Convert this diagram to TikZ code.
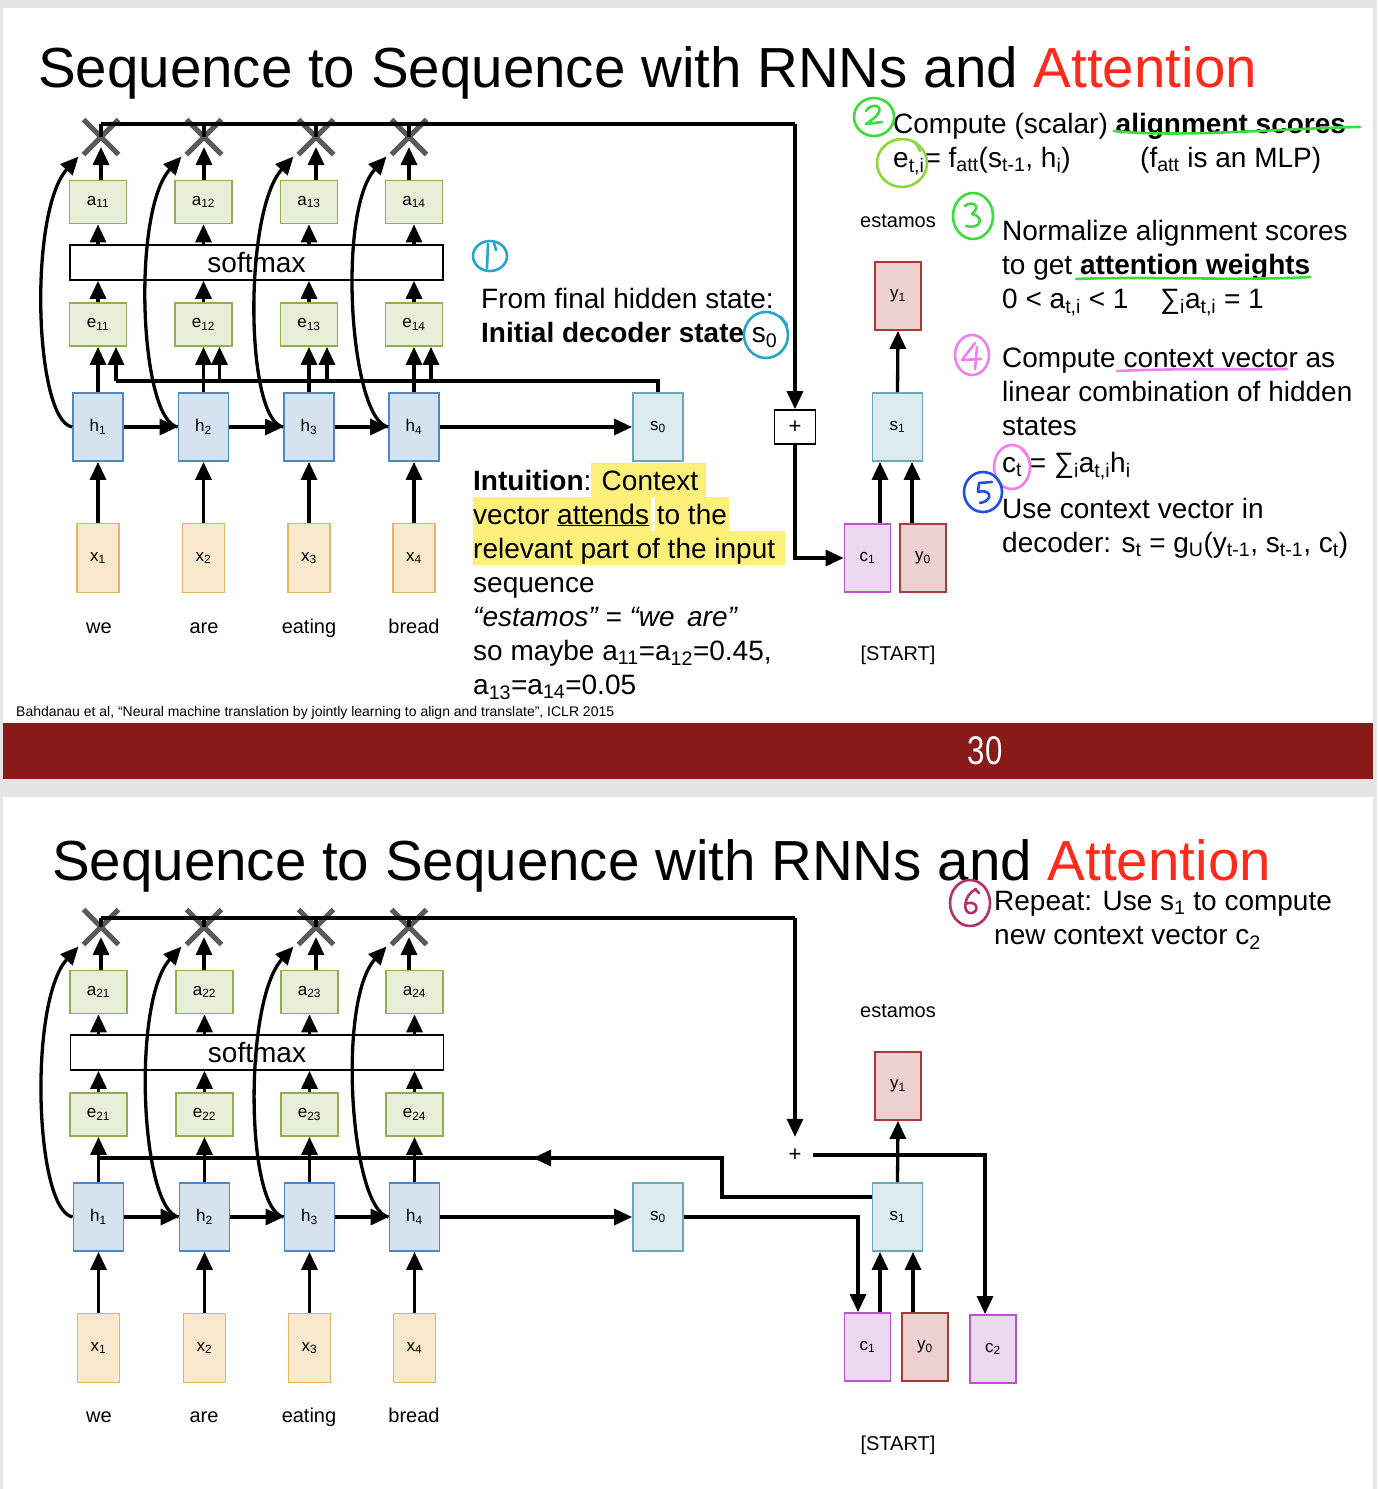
\documentclass[tikz,border=0pt]{standalone}
\usepackage{fontspec}
\setmainfont{Liberation Sans}
\usepackage{graphicx}
\usetikzlibrary{arrows.meta,shapes.misc}
\definecolor{bggray}{HTML}{E4E4E4}
\definecolor{bandred}{HTML}{8A1A1A}
\definecolor{titlered}{HTML}{FF2A1A}
\definecolor{hfill}{HTML}{D5E3F1}
\definecolor{hdraw}{HTML}{4E88C0}
\definecolor{gfill}{HTML}{E8EED8}
\definecolor{gdraw}{HTML}{90B050}
\definecolor{sfill}{HTML}{DCEBEE}
\definecolor{sdraw}{HTML}{6BA9B8}
\definecolor{yfill}{HTML}{EDD0D0}
\definecolor{ydraw}{HTML}{A83A3A}
\definecolor{cfill}{HTML}{EBD9F0}
\definecolor{cdraw}{HTML}{BC52CC}
\definecolor{xfill}{HTML}{F8E8CC}
\definecolor{xdraw}{HTML}{E2B465}
\definecolor{crossgray}{HTML}{5A5A5A}
\definecolor{hl}{HTML}{FDF07A}
\definecolor{penone}{HTML}{27A6C9}
\definecolor{pentwo}{HTML}{3DDC3D}
\definecolor{penlime}{HTML}{8ED63A}
\definecolor{penfour}{HTML}{F27EF2}
\definecolor{penfive}{HTML}{1F50E0}
\definecolor{pensix}{HTML}{B3306C}
\newcommand{\sbs}[1]{\textsubscript{#1}}
\tikzset{
 box/.style={draw, line width=1.8pt, inner sep=0pt, font=\fontsize{17}{17}\selectfont},
 hbox/.style={box, fill=hfill, draw=hdraw, minimum width=50pt, minimum height=68pt},
 gbox/.style={box, fill=gfill, draw=gdraw, minimum width=57pt, minimum height=43pt},
 sbox/.style={box, fill=sfill, draw=sdraw, minimum width=50pt, minimum height=68pt},
 ybox/.style={box, fill=yfill, draw=ydraw, minimum width=46pt, minimum height=68pt},
 cbox/.style={box, fill=cfill, draw=cdraw, minimum width=46pt, minimum height=68pt},
 xbox/.style={box, fill=xfill, draw=xdraw, minimum width=42pt, minimum height=69pt},
 smbox/.style={draw, line width=1.6pt, fill=white, minimum width=373pt, minimum height=35pt, inner sep=0pt, font=\fontsize{28}{28}\selectfont},
 crossmark/.style={cross out, draw=crossgray, line width=5pt, minimum size=30pt, inner sep=0pt},
 ln/.style={line width=3.3pt},
 arr/.style={line width=3.3pt, -{Triangle[width=16pt,length=18pt]}},
 word/.style={font=\fontsize{20}{20}\selectfont, inner sep=0pt, anchor=base},
 txt/.style={font=\fontsize{28}{34}\selectfont, anchor=base west, inner sep=0pt},
 titletxt/.style={font=\fontsize{56.5}{57}\selectfont, anchor=base west, inner sep=0pt},
 pen/.style={line width=2.6pt, line cap=round, line join=round},
}
\begin{document}
\begin{tikzpicture}[x=1pt,y=-1pt]
\useasboundingbox (0,0) rectangle (1377,1489);
\fill[bggray] (0,0) rectangle (1377,1489);
\fill[white] (3,8) rectangle (1373,723);
\fill[bandred] (3,723) rectangle (1373,779);
\fill[white] (3,797) rectangle (1373,1489);

% ---------- titles ----------
\node[titletxt] (title1) at (38,87) {Sequence to Sequence with RNNs and \textcolor{titlered}{Attention}};
\node[titletxt] (title2) at (52,880) {Sequence to Sequence with RNNs and \textcolor{titlered}{Attention}};

% ---------- highlights ----------
\fill[hl] (591,463) rectangle (706,497);
\fill[hl] (473,497) rectangle (651,531);
\fill[hl] (655,497) rectangle (729,531);
\fill[hl] (473,531) rectangle (785,565);

% ---------- top slide: encoder ----------
\node[smbox] (smt) at (256.5,262.5) {softmax};
\foreach \i/\x/\X in {1/98/101,2/203.5/204,3/309/316,4/414/409}{
  \node[hbox] (ht\i) at (\x,427) {h\sbs{\i}};
  \node[gbox] (et\i) at (\x,324.5) {e\sbs{1\i}};
  \node[gbox] (at\i) at (\x,202) {a\sbs{1\i}};
  \node[xbox] (xt\i) at (\x,558) {x\sbs{\i}};
  \node[crossmark] (Xt\i) at (\X,137) {};
}
\node[word] (wt1) at (99,633) {we};
\node[word] (wt2) at (204,633) {are};
\node[word] (wt3) at (309,633) {eating};
\node[word] (wt4) at (414,633) {bread};

% decoder top
\node[sbox] (s0t) at (658,427) {s\sbs{0}};
\node[draw, line width=1.6pt, minimum width=41pt, minimum height=34pt, inner sep=0pt, font=\fontsize{22}{22}\selectfont] (plust) at (795,427) {+};
\node[ybox] (y1t) at (898,296) {y\sbs{1}};
\node[sbox] (s1t) at (897.5,427) {s\sbs{1}};
\node[cbox] (c1t) at (867.5,558) {c\sbs{1}};
\node[ybox] (y0t) at (923,558) {y\sbs{0}};
\node[word] (estt) at (898,227) {estamos};
\node[word] (startt) at (898,660) {[START]};

% connectors top
\coordinate (topR) at (795,124);
\draw[ln] (Xt1.center |- topR) -- (topR);
\draw[arr] (topR) -- (plust.north);
\coordinate (busT) at (116,381);
\draw[ln] (s0t.north) |- (busT);
\foreach \i/\d in {1/18,2/16,3/18,4/17}{
  \draw[ln] (Xt\i.center) -- (Xt\i.center |- topR);
  \draw[arr] ([xshift=\d pt]et\i.south |- busT) -- ([xshift=\d pt]et\i.south);
  \draw[arr] (ht\i.north) -- (et\i.south);
  \draw[arr] (et\i.north) -- (et\i.north |- smt.south);
  \draw[arr] (at\i.south |- smt.north) -- (at\i.south);
  \draw[arr] (at\i.north -| Xt\i) -- ([yshift=-10pt]Xt\i.center);
  \draw[arr] (xt\i.north) -- (ht\i.south);
  \draw[arr] (ht\i.west) .. controls +(-38,-7) and +(-50,55) .. ([xshift=-5pt,yshift=-2pt]Xt\i.south west);
}
\draw[arr] (ht1.east) -- (ht2.west);
\draw[arr] (ht2.east) -- (ht3.west);
\draw[arr] (ht3.east) -- (ht4.west);
\draw[arr] (ht4.east) -- (s0t.west);
\draw[arr] (plust.south) |- (c1t.west);
\draw[arr] (s1t.north) -- (y1t.south);
\draw[arr] ([xshift=12.5pt]c1t.north) -- ([xshift=12.5pt]c1t.north |- s1t.south);
\draw[arr] ([xshift=-11pt]y0t.north) -- ([xshift=-11pt]y0t.north |- s1t.south);

% ---------- top slide texts ----------
\node[txt] (t1a) at (481,308) {From final hidden state:};
\node[txt] (t1b) at (481,342) {\textbf{Initial decoder state} s\sbs{0}};

\node[txt] (i1) at (473,490) {\textbf{Intuition}: Context};
\node[txt] (i2) at (473,524) {vector \underline{attends} to the};
\node[txt] (i3) at (473,558) {relevant part of the input};
\node[txt] (i4) at (473,592) {sequence};
\node[txt] (i5) at (473,626) {\textit{“estamos” = “we\, are”}};
\node[txt] (i6) at (473,660) {so maybe a\sbs{11}=a\sbs{12}=0.45,};
\node[txt] (i7) at (473,694) {a\sbs{13}=a\sbs{14}=0.05};

\node[txt] (r1) at (893,133) {Compute (scalar) \textbf{alignment scores}};
\node[txt] (r2) at (893,167) {e\sbs{t,i}= f\sbs{att}(s\sbs{t-1}, h\sbs{i})};
\node[txt] (r2b) at (1140,167) {(f\sbs{att} is an MLP)};
\node[txt] (r3) at (1002,240) {Normalize alignment scores};
\node[txt] (r4) at (1002,274) {to get \textbf{attention weights}};
\node[txt] (r5) at (1002,308) {0 < a\sbs{t,i} < 1};
\node[txt] (r5b) at (1160,308) {∑\sbs{i}a\sbs{t,i} = 1};
\node[txt] (r6) at (1002,367) {Compute context vector as};
\node[txt] (r7) at (1002,401) {linear combination of hidden};
\node[txt] (r8) at (1002,435) {states};
\node[txt] (r9) at (1002,472) {c\sbs{t} = ∑\sbs{i}a\sbs{t,i}h\sbs{i}};
\node[txt] (r10) at (1002,518) {Use context vector in};
\node[txt] (r11) at (1002,552) {decoder: s\sbs{t} = g\sbs{U}(y\sbs{t-1}, s\sbs{t-1}, c\sbs{t})};

\node[anchor=base west, inner sep=0pt] (foot) at (16,716) {\resizebox{598pt}{\height}{\fontsize{14}{14}\selectfont Bahdanau et al, “Neural machine translation by jointly learning to align and translate”, ICLR 2015}};
\node[text=white, inner sep=0pt, font=\fontsize{40}{40}\selectfont] (pnum) at (985,751) {\scalebox{0.78}[1]{30}};

% ---------- bottom slide: encoder ----------
\node[smbox] (smb) at (257,1052.5) {softmax};
\foreach \i/\x/\X in {1/98.5/101,2/204.5/204,3/309.5/316,4/414.5/409}{
  \node[hbox] (hb\i) at (\x,1217) {h\sbs{\i}};
  \node[gbox] (eb\i) at (\x,1114.5) {e\sbs{2\i}};
  \node[gbox] (ab\i) at (\x,992) {a\sbs{2\i}};
  \node[xbox] (xb\i) at (\x,1348) {x\sbs{\i}};
  \node[crossmark] (Xb\i) at (\X,927) {};
}
\node[word] (wb1) at (99,1422) {we};
\node[word] (wb2) at (204,1422) {are};
\node[word] (wb3) at (309,1422) {eating};
\node[word] (wb4) at (414,1422) {bread};

\node[sbox] (s0b) at (658,1217) {s\sbs{0}};
\node[minimum size=36pt, inner sep=0pt, font=\fontsize{22}{22}\selectfont] (plusb) at (795,1155) {+};
\node[ybox] (y1b) at (898,1086) {y\sbs{1}};
\node[sbox] (s1b) at (897.5,1217) {s\sbs{1}};
\node[cbox] (c1b) at (867.5,1347) {c\sbs{1}};
\node[ybox] (y0b) at (925,1347) {y\sbs{0}};
\node[cbox] (c2b) at (993,1349) {c\sbs{2}};
\node[word] (estb) at (898,1017) {estamos};
\node[word] (startb) at (898,1450) {[START]};

\coordinate (topRb) at (795,918);
\draw[ln] (Xb1.center |- topRb) -- (topRb);
\draw[arr] (topRb) -- (plusb.north);
\coordinate (busb) at (722,1158);
\draw[ln] ([yshift=20pt]s1b.west) -| (busb) -- (hb1.north |- busb);
\draw[arr] ([xshift=-160pt]busb) -- ([xshift=-189pt]busb);
\foreach \i in {1,2,3,4}{
  \draw[ln] (Xb\i.center) -- (Xb\i.center |- topRb);
  \draw[arr] (hb\i.north) -- (eb\i.south);
  \draw[arr] (eb\i.north) -- (eb\i.north |- smb.south);
  \draw[arr] (ab\i.south |- smb.north) -- (ab\i.south);
  \draw[arr] (ab\i.north -| Xb\i) -- ([yshift=-10pt]Xb\i.center);
  \draw[arr] (xb\i.north) -- (hb\i.south);
  \draw[arr] (hb\i.west) .. controls +(-38,-7) and +(-50,55) .. ([xshift=-5pt,yshift=-2pt]Xb\i.south west);
}
\draw[arr] (hb1.east) -- (hb2.west);
\draw[arr] (hb2.east) -- (hb3.west);
\draw[arr] (hb3.east) -- (hb4.west);
\draw[arr] (hb4.east) -- (s0b.west);
\draw[arr] (s0b.east) -| ([xshift=-9.5pt]c1b.north);
\draw[arr] (plusb.east) -| ([xshift=-8pt]c2b.north);
\draw[arr] (s1b.north) -- (y1b.south);
\draw[arr] ([xshift=12.5pt]c1b.north) -- ([xshift=12.5pt]c1b.north |- s1b.south);
\draw[arr] ([xshift=-12pt]y0b.north) -- ([xshift=-12pt]y0b.north |- s1b.south);

\node[txt] (b1) at (994,910) {Repeat: Use s\sbs{1} to compute};
\node[txt] (b2) at (994,944) {new context vector c\sbs{2}};

% ---------- pen annotations ----------
\draw[pen, penone] (490,256) ellipse [x radius=17, y radius=15];
\draw[pen, penone] (488,244) -- (487,268);
\draw[pen, penone] (494,243) -- (496,250);
\draw[pen, penone] (766,335) ellipse [x radius=22, y radius=23];
\draw[pen, penone] (781,317) -- (787,325);

\draw[pen, pentwo] (874,117) ellipse [x radius=20, y radius=19];
\draw[pen, pentwo] (866,111) .. controls (870,104) and (882,104) .. (879,112) .. controls (877,117) and (870,121) .. (866,124) -- (882,122);
\draw[pen, penlime] (902,163) ellipse [x radius=25, y radius=24];
\draw[pen, penlime] (915,142) -- (920,151);
\draw[pen, pentwo] (1114,131) .. controls (1180,138) and (1290,128) .. (1360,127);

\draw[pen, pentwo] (973,216) ellipse [x radius=20, y radius=23];
\draw[pen, pentwo] (965,206) .. controls (972,200) and (982,206) .. (972,214) .. controls (984,216) and (982,230) .. (966,226);
\draw[pen, pentwo] (1076,279) .. controls (1150,276) and (1240,281) .. (1310,277);

\draw[pen, penfour] (972,355) ellipse [x radius=17, y radius=20];
\draw[pen, penfour] (975,343) -- (962,360) -- (981,359);
\draw[pen, penfour] (977,347) -- (975,369);
\draw[pen, penfour] (1117,371) .. controls (1180,368) and (1240,370) .. (1287,369);
\draw[pen, penfour] (1012,467) ellipse [x radius=18, y radius=22];
\draw[pen, penfour] (1022,449) -- (1027,455);

\draw[pen, penfive] (983,492) ellipse [x radius=19, y radius=20];
\draw[pen, penfive] (992,482) -- (979,483) -- (978,492) .. controls (990,488) and (995,500) .. (980,503);

\draw[pen, pensix] (970,903) ellipse [x radius=20, y radius=23];
\draw[pen, pensix] (976,889) .. controls (963,895) and (962,915) .. (972,913) .. controls (980,911) and (977,899) .. (965,904);
\draw[pen, pensix] (975,889) -- (979,893);
\end{tikzpicture}
\end{document}
